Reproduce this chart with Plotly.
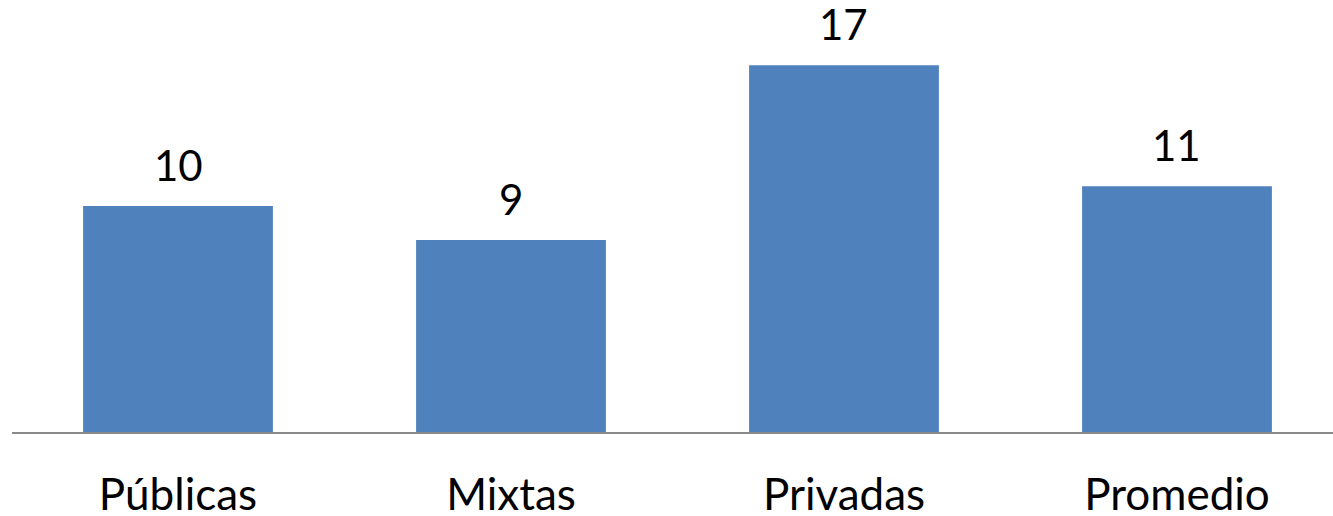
import plotly.graph_objects as go

categories = ["Públicas", "Mixtas", "Privadas", "Promedio"]
values = [10.37, 8.81, 16.83, 11.28]
labels = ["10", "9", "17", "11"]

fig = go.Figure()
fig.add_trace(go.Bar(
    x=categories, y=values,
    marker=dict(color="#4F81BD", line=dict(width=0)),
    width=0.57,
    hoverinfo="skip",
))
for c, v, t in zip(categories, values, labels):
    fig.add_annotation(x=c, y=v, text=t, showarrow=False, yanchor="bottom",
                       yshift=14, font=dict(family="Lato", size=42, color="#000000"))

fig.update_layout(
    width=1333, height=516,
    margin=dict(l=12, r=0, t=0, b=84, autoexpand=False),
    paper_bgcolor="white", plot_bgcolor="white",
    showlegend=False,
    font=dict(family="Lato", color="#000000"),
    xaxis=dict(
        range=[-0.4985, 3.4685],
        automargin=False,
        showline=True, linecolor="#898989", linewidth=2,
        showgrid=False, zeroline=False,
        ticks="outside", ticklen=23, tickcolor="rgba(0,0,0,0)",
        tickfont=dict(family="Lato", size=44, color="#000000"),
    ),
    yaxis=dict(range=[0, 19.82], visible=False, showgrid=False, zeroline=False,
               automargin=False),
)
fig.write_html("out.html")
